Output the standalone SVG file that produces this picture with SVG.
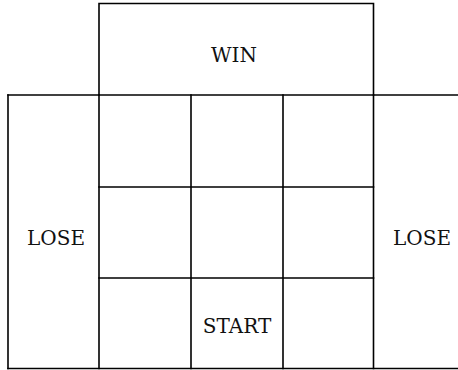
<svg xmlns="http://www.w3.org/2000/svg" width="458" height="370" viewBox="0 0 458 370">
<style>
.ln{stroke:#000;stroke-width:1.6;fill:none;stroke-linecap:square}
.t{font-family:"DejaVu Serif",serif;font-size:20px;fill:#111;text-anchor:middle}
</style>
<rect width="458" height="370" fill="#fff"/>
<g id="connectors">
<path class="ln" d="M99,95 V3.5 H373.5 V95"/>
<path class="ln" d="M8,95 H458"/>
<path class="ln" d="M8,368.5 H458"/>
<path class="ln" d="M8,95 V368.5"/>
<path class="ln" d="M99,95 V368.5 M191,95 V368.5 M283,95 V368.5 M373.5,95 V368.5"/>
<path class="ln" d="M99,187 H373.5 M99,278 H373.5"/>
</g>
<g id="win"><text class="t" x="234" y="61.5">WIN</text></g>
<g id="lose-left"><text class="t" x="56" y="244.5">LOSE</text></g>
<g id="lose-right"><text class="t" x="422" y="244.5">LOSE</text></g>
<g id="start"><text class="t" x="237" y="333">START</text></g>
</svg>
